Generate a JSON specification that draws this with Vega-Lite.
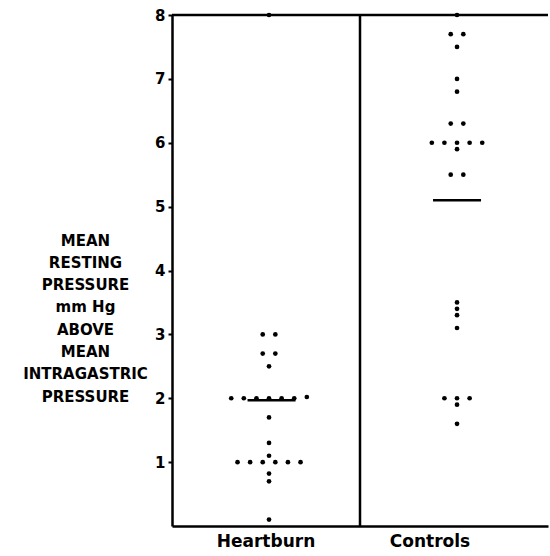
{
  "$schema": "https://vega.github.io/schema/vega-lite/v6.json",
  "autosize": "none",
  "width": 376,
  "height": 511,
  "padding": {"left": 172, "top": 15, "right": 2, "bottom": 30},
  "background": "white",
  "config": {"view": {"stroke": null}},
  "datasets": {
    "dots": [
      {"group": "Heartburn", "value": 8.0, "slot": 0},
      {"group": "Heartburn", "value": 3.0, "slot": -0.5},
      {"group": "Heartburn", "value": 3.0, "slot": 0.5},
      {"group": "Heartburn", "value": 2.7, "slot": -0.5},
      {"group": "Heartburn", "value": 2.7, "slot": 0.5},
      {"group": "Heartburn", "value": 2.5, "slot": 0},
      {"group": "Heartburn", "value": 2.0, "slot": -3},
      {"group": "Heartburn", "value": 2.0, "slot": -2},
      {"group": "Heartburn", "value": 2.0, "slot": -1},
      {"group": "Heartburn", "value": 2.0, "slot": 0},
      {"group": "Heartburn", "value": 2.0, "slot": 1},
      {"group": "Heartburn", "value": 2.0, "slot": 2},
      {"group": "Heartburn", "value": 2.02, "slot": 3},
      {"group": "Heartburn", "value": 1.7, "slot": 0},
      {"group": "Heartburn", "value": 1.3, "slot": 0},
      {"group": "Heartburn", "value": 1.1, "slot": 0},
      {"group": "Heartburn", "value": 1.0, "slot": -2.5},
      {"group": "Heartburn", "value": 1.0, "slot": -1.5},
      {"group": "Heartburn", "value": 1.0, "slot": -0.5},
      {"group": "Heartburn", "value": 1.0, "slot": 0.5},
      {"group": "Heartburn", "value": 1.0, "slot": 1.5},
      {"group": "Heartburn", "value": 1.0, "slot": 2.5},
      {"group": "Heartburn", "value": 0.82, "slot": 0},
      {"group": "Heartburn", "value": 0.7, "slot": 0},
      {"group": "Heartburn", "value": 0.1, "slot": 0},
      {"group": "Controls", "value": 8.0, "slot": 0},
      {"group": "Controls", "value": 7.7, "slot": -0.5},
      {"group": "Controls", "value": 7.7, "slot": 0.5},
      {"group": "Controls", "value": 7.5, "slot": 0},
      {"group": "Controls", "value": 7.0, "slot": 0},
      {"group": "Controls", "value": 6.8, "slot": 0},
      {"group": "Controls", "value": 6.3, "slot": -0.5},
      {"group": "Controls", "value": 6.3, "slot": 0.5},
      {"group": "Controls", "value": 6.0, "slot": -2},
      {"group": "Controls", "value": 6.0, "slot": -1},
      {"group": "Controls", "value": 6.0, "slot": 0},
      {"group": "Controls", "value": 6.0, "slot": 1},
      {"group": "Controls", "value": 6.0, "slot": 2},
      {"group": "Controls", "value": 5.9, "slot": 0},
      {"group": "Controls", "value": 5.5, "slot": -0.5},
      {"group": "Controls", "value": 5.5, "slot": 0.5},
      {"group": "Controls", "value": 3.5, "slot": 0},
      {"group": "Controls", "value": 3.4, "slot": 0},
      {"group": "Controls", "value": 3.3, "slot": 0},
      {"group": "Controls", "value": 3.1, "slot": 0},
      {"group": "Controls", "value": 2.0, "slot": -1},
      {"group": "Controls", "value": 2.0, "slot": 0},
      {"group": "Controls", "value": 2.0, "slot": 1},
      {"group": "Controls", "value": 1.9, "slot": 0},
      {"group": "Controls", "value": 1.6, "slot": 0}
    ],
    "means": [
      {"group": "Heartburn", "mean": 1.97, "slot": 0.2},
      {"group": "Controls", "mean": 5.1, "slot": 0}
    ],
    "frame": [
      {"group": "Controls", "top": 8}
    ]
  },
  "layer": [
    {
      "data": {"name": "frame"},
      "mark": {"type": "rule", "color": "black", "strokeWidth": 2.5},
      "encoding": {"y": {"field": "top", "type": "quantitative"}}
    },
    {
      "data": {"name": "frame"},
      "mark": {"type": "rule", "color": "black", "strokeWidth": 2.5},
      "encoding": {"x": {"field": "group", "type": "nominal", "bandPosition": 0}}
    },
    {
      "data": {"name": "means"},
      "mark": {"type": "tick", "color": "black", "opacity": 1, "size": 48, "thickness": 2.5},
      "encoding": {
        "x": {"field": "group", "type": "nominal"},
        "xOffset": {"field": "slot", "type": "quantitative"},
        "y": {"field": "mean", "type": "quantitative"}
      }
    },
    {
      "data": {"name": "dots"},
      "mark": {"type": "circle", "color": "black", "opacity": 1, "size": 22},
      "encoding": {
        "x": {
          "field": "group",
          "type": "nominal",
          "sort": ["Heartburn", "Controls"],
          "scale": {"domain": ["Heartburn", "Controls"], "paddingInner": 0, "paddingOuter": 0},
          "axis": {
            "title": null,
            "labelAngle": 0,
            "labelAlign": "center",
            "ticks": false,
            "domainColor": "black",
            "domainWidth": 2.5,
            "labelFont": "DejaVu Sans",
            "labelFontWeight": "bold",
            "labelFontSize": 17,
            "labelColor": "black",
            "labelPadding": 15,
            "labelOffset": {"expr": "datum.value === 'Controls' ? -24 : 0"}
          }
        },
        "xOffset": {
          "field": "slot",
          "type": "quantitative",
          "scale": {"domain": [-7.7, 7.22], "nice": false, "zero": false}
        },
        "y": {
          "field": "value",
          "type": "quantitative",
          "scale": {"domain": [0, 8], "nice": false},
          "axis": {
            "values": [1, 2, 3, 4, 5, 6, 7, 8],
            "format": "d",
            "grid": false,
            "domainColor": "black",
            "domainWidth": 2.5,
            "tickColor": "black",
            "tickWidth": 2,
            "tickSize": 4,
            "labelFont": "DejaVu Sans",
            "labelFontWeight": "bold",
            "labelFontSize": 15,
            "labelColor": "black",
            "labelPadding": 3,
            "title": ["MEAN", "RESTING", "PRESSURE", "mm Hg", "ABOVE", "MEAN", "INTRAGASTRIC", "PRESSURE"],
            "titleFont": "DejaVu Sans",
            "titleFontWeight": "bold",
            "titleFontSize": 15,
            "titleColor": "black",
            "titleAngle": 0,
            "titleAlign": "center",
            "titleBaseline": "top",
            "titleLineHeight": 22.3,
            "titleX": -87,
            "titleY": 218
          }
        }
      }
    }
  ]
}
